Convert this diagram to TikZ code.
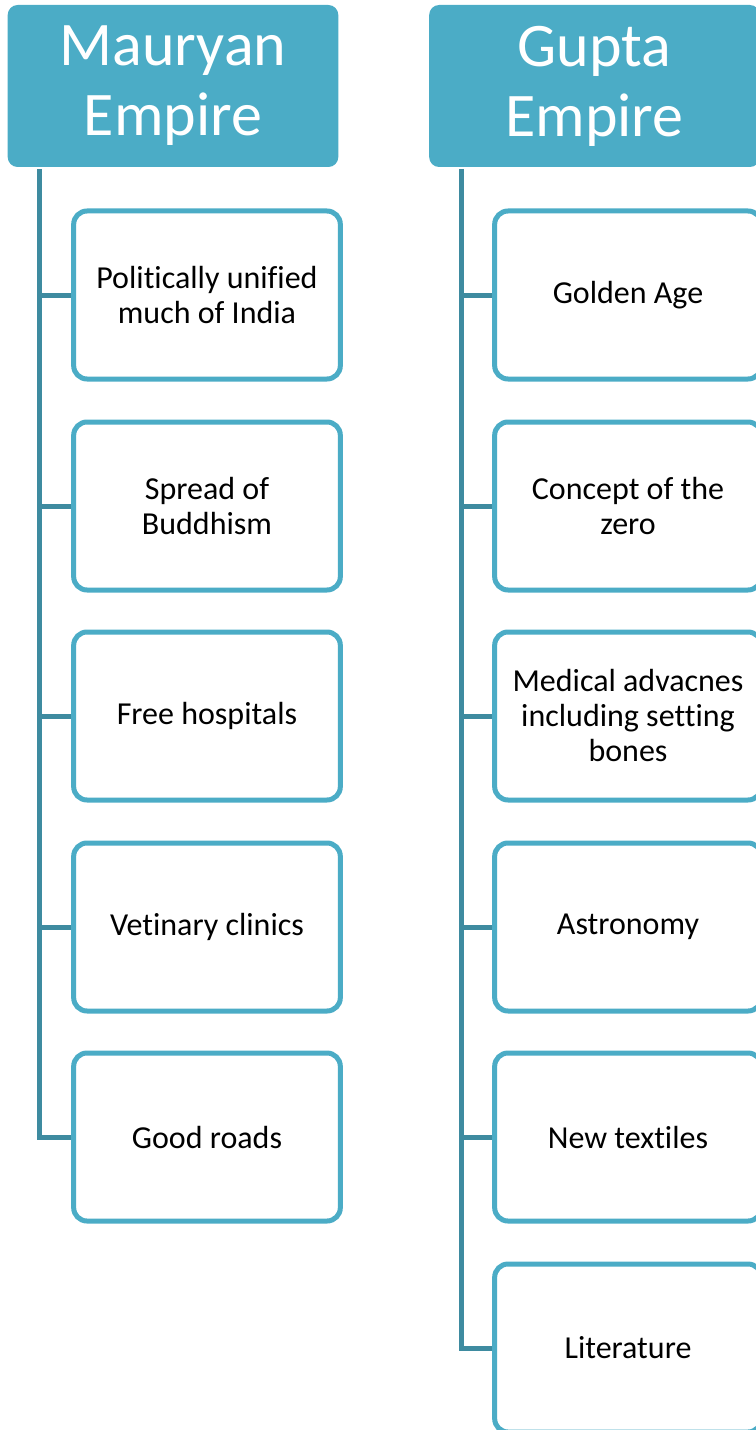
\documentclass[tikz,border=0pt]{standalone}
\usepackage{fontspec}
\setmainfont{Carlito}[Ligatures=NoCommon]
\usepackage{tikz}
\definecolor{aqua}{RGB}{75,172,198}
\definecolor{aquadark}{RGB}{62,139,160}

\tikzset{
  empire/.style={fill=aqua, rounded corners=7.5pt, minimum width=248pt,
    minimum height=121.5pt, text=white, align=center,
    font=\fontsize{46.5}{52.5}\selectfont},
  item/.style={draw=aqua, line width=3.75pt, fill=white, rounded corners=10pt,
    minimum width=200pt, minimum height=126pt, align=center,
    font=\fontsize{24}{26.25}\selectfont},
  trunk/.style={draw=aquadark, line width=3.75pt}
}

\begin{document}
\begin{tikzpicture}[x=0.75pt,y=-0.75pt]
    \useasboundingbox (0,0) rectangle (756,1430);
    \clip (0,0) rectangle (756,1430);
    % Mauryan column
    \begin{scope}
      \node[empire] (maurya) at (173,86) {Mauryan\\Empire};
      \node[item] (m1) at (207,295) {Politically unified\\much of India};
      \node[item] (m2) at (207,506) {Spread of\\Buddhism};
      \node[item] (m3) at (207,716) {Free hospitals};
      \node[item] (m4) at (207,927) {Vetinary clinics};
      \node[item] (m5) at (207,1137) {Good roads};
      \coordinate (mtop) at (39,169);
      \draw[trunk] (mtop) |- (m5.west);
      \draw[trunk] (m1.west -| mtop) -- (m1.west);
      \draw[trunk] (m2.west -| mtop) -- (m2.west);
      \draw[trunk] (m3.west -| mtop) -- (m3.west);
      \draw[trunk] (m4.west -| mtop) -- (m4.west);
    \end{scope}
    % Gupta column
    \begin{scope}
      \node[empire] (gupta) at (594.5,86) {Gupta\\Empire};
      \node[item] (g1) at (628,295) {Golden Age};
      \node[item] (g2) at (628,506) {Concept of the\\zero};
      \node[item] (g3) at (628,716) {Medical advacnes\\including setting\\bones};
      \node[item] (g4) at (628,927) {Astronomy};
      \node[item] (g5) at (628,1137) {New textiles};
      \node[item] (g6) at (628,1348) {Literature};
      \coordinate (gtop) at (461,169);
      \draw[trunk] (gtop) |- (g6.west);
      \draw[trunk] (g1.west -| gtop) -- (g1.west);
      \draw[trunk] (g2.west -| gtop) -- (g2.west);
      \draw[trunk] (g3.west -| gtop) -- (g3.west);
      \draw[trunk] (g4.west -| gtop) -- (g4.west);
      \draw[trunk] (g5.west -| gtop) -- (g5.west);
    \end{scope}
\end{tikzpicture}
\end{document}
